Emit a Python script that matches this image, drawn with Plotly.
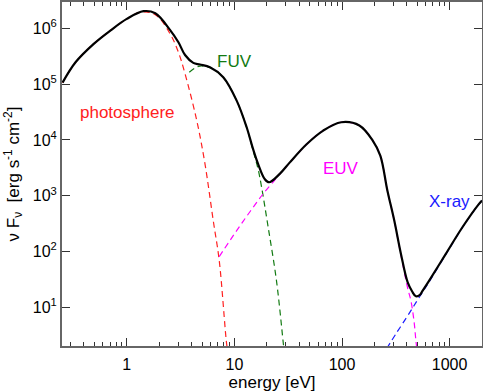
import plotly.graph_objects as go

# ---- data (energy in eV, nuFnu in erg s^-1 cm^-2) ----
total_E = [0.253, 0.334, 0.493, 0.703, 1.00, 1.43, 1.84, 2.53, 3.02, 3.48, 4.15, 4.79,
           5.93, 7.88, 10.5, 13.0, 14.9, 16.6, 19.1, 21.0, 26.4, 32.6, 46.6, 66.4,
           98.4, 145, 193, 227, 264, 306, 353, 407, 449, 486, 530, 560, 646, 922,
           1315, 1876, 2000]
total_F = [1.07e5, 2.48e5, 5.31e5, 9.2e5, 1.49e6, 2.05e6, 1.88e6, 9.4e5, 5.67e5, 3.35e5,
           2.42e5, 2.26e5, 2.02e5, 1.34e5, 5.09e4, 1.69e4, 6.9e3, 3.72e3, 2.0e3, 1.74e3,
           2.46e3, 3.92e3, 8.3e3, 1.46e4, 2.08e4, 1.82e4, 9.76e3, 5.25e3, 1.24e3, 357,
           90, 28, 19, 15.6, 16.5, 19.5, 29.9, 90, 271, 713, 817]

phot_E = [0.253, 0.334, 0.493, 0.703, 1.00, 1.33, 1.84, 2.53, 3.02, 3.48, 4.47, 5.33,
          6.36, 7.23, 8.47, 8.7]
phot_F = [1.07e5, 2.48e5, 5.31e5, 9.2e5, 1.49e6, 1.96e6, 1.78e6, 8.03e5, 3.75e5, 1.54e5,
          2.23e4, 3.72e3, 357, 68.4, 2.18, 1.6]

fuv_E = [3.81, 4.3, 4.79, 5.93, 7.88, 10.5, 13.0, 14.9, 16.6, 17.9, 20.6, 24.6, 28.3, 28.8]
fuv_F = [1.64e5, 1.95e5, 2.12e5, 1.98e5, 1.33e5, 5.05e4, 1.67e4, 6.5e3, 3.0e3, 1.42e3,
         271, 29.9, 2.5, 1.8]

euv_E = [7.23, 10.5, 14.0, 18.5, 23.7, 26.4, 32.6, 46.6, 66.4, 98.4, 145, 193, 227, 264,
         306, 353, 407, 437, 470, 486, 500]
euv_F = [80.7, 236, 520, 1.08e3, 1.9e3, 2.44e3, 3.9e3, 8.28e3, 1.458e4, 2.078e4, 1.818e4,
         9.75e3, 5.24e3, 1.235e3, 354, 86, 22, 13, 5, 2.5, 1.6]

xray_E = [260, 320, 400, 452, 486, 560, 646, 922, 1315, 1876, 2000]
xray_F = [1.8, 3.4, 6.6, 9.6, 12, 18.5, 28.5, 88, 268, 708, 812]

x_tick_vals = [1, 10, 100, 1000]
x_tick_text = ["1", "10", "100", "1000"]
y_tick_vals = [10, 100, 1000, 1e4, 1e5, 1e6]
y_tick_text = ["10<sup>1</sup>", "10<sup>2</sup>", "10<sup>3</sup>",
               "10<sup>4</sup>", "10<sup>5</sup>", "10<sup>6</sup>"]
x_minor = [m * d for d in (0.1, 1, 10, 100, 1000) for m in range(2, 10)]

RED = "#ff2020"
GREEN = "#127a12"
MAGENTA = "#ff00ff"
BLUE = "#1a1aff"

fig = go.Figure()
dash = "6px,4px"
for E, F, c in [(phot_E, phot_F, RED), (fuv_E, fuv_F, GREEN),
                (euv_E, euv_F, MAGENTA), (xray_E, xray_F, BLUE)]:
    fig.add_trace(go.Scatter(x=E, y=F, mode="lines",
                             line=dict(color=c, width=1.2, dash=dash, shape="spline"),
                             showlegend=False, hoverinfo="skip"))
fig.add_trace(go.Scatter(x=total_E, y=total_F, mode="lines",
                         line=dict(color="black", width=2.2, shape="spline"),
                         showlegend=False))

font = "Liberation Sans, Arial, Helvetica, sans-serif"
axis_common = dict(type="log", showline=True, linecolor="#666", linewidth=2,
                   mirror="allticks", ticks="inside", ticklen=8, tickwidth=1.3,
                   tickcolor="#333", showgrid=False, zeroline=False, automargin=False,
                   tickfont=dict(size=16, color="black", family=font))

fig.update_xaxes(**axis_common, range=[-0.602, 3.301],
                 tickvals=x_tick_vals, ticktext=x_tick_text, ticklabelstandoff=3,
                 minor=dict(ticks="inside", ticklen=4, tickcolor="#333",
                            tickvals=x_minor, showgrid=False),
                 title=dict(text="energy [eV]", font=dict(size=17, family=font, color="black"),
                            standoff=2))
fig.update_yaxes(**axis_common, range=[0.301, 6.477],
                 tickvals=y_tick_vals, ticktext=y_tick_text,
                 title=dict(text="ν F<sub>ν</sub>  [erg s<sup>-1</sup> cm<sup>-2</sup>]",
                            font=dict(size=17, family=font, color="black"), standoff=9))

labels = [("photosphere", 0.1555, 0.680, RED), ("FUV", 0.4114, 0.8256, GREEN),
          ("EUV", 0.6638, 0.5174, MAGENTA), ("X-ray", 0.9226, 0.4215, BLUE)]
for t, xp, yp, c in labels:
    fig.add_annotation(text=t, x=xp, y=yp, xref="paper", yref="paper",
                       xanchor="center", yanchor="middle", showarrow=False,
                       font=dict(size=17, color=c, family=font))

fig.update_layout(width=483, height=392, margin=dict(l=62, r=1, t=2, b=46),
                  plot_bgcolor="white", paper_bgcolor="white",
                  font=dict(family=font, color="black"))
fig.write_html("out.html", config={"displayModeBar": False},
               post_script="document.body.style.margin='0';document.body.style.overflow='hidden';")
